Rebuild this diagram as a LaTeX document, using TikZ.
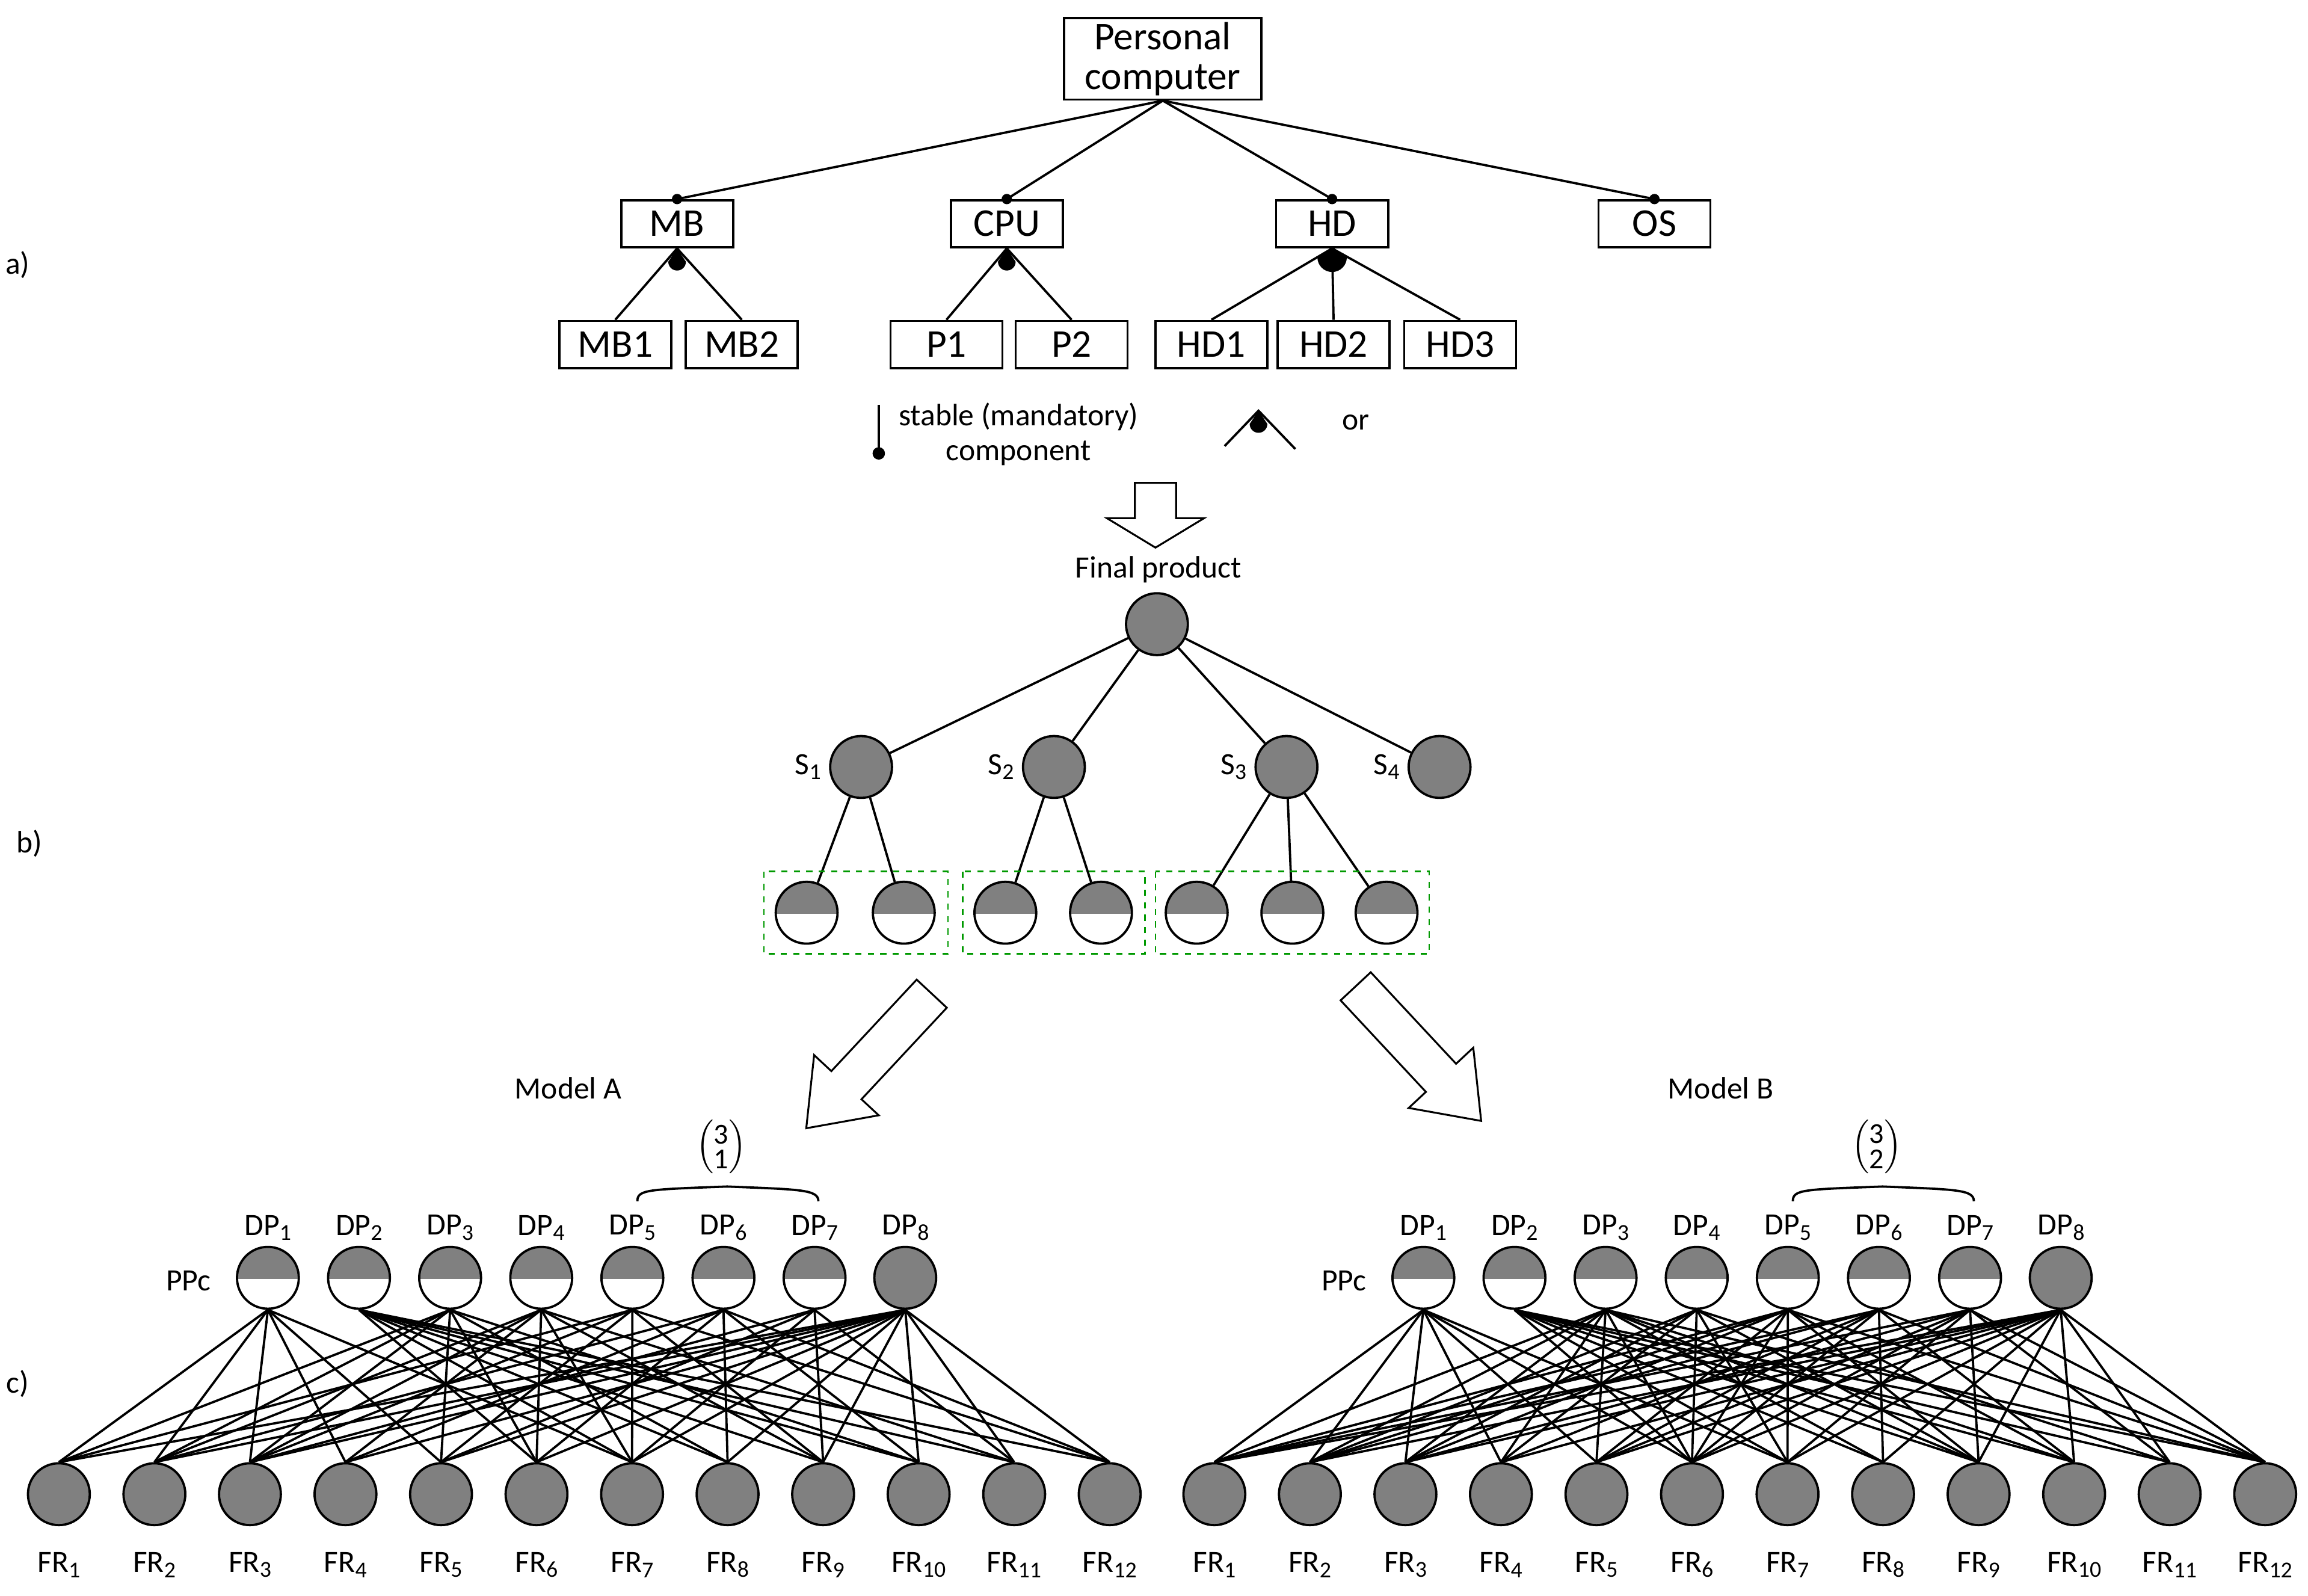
\documentclass[tikz,border=0pt]{standalone}
\usepackage{amsmath}
\usepackage{fontspec}
\setmainfont{Carlito}
\newcommand{\sbs}[1]{\raisebox{-0.35ex}{\fontsize{11}{11}\selectfont #1}}
\begin{document}
\begin{tikzpicture}[x=0.025cm,y=-0.025cm,line width=1.1pt,
  box/.style={draw,fill=white,minimum height=0.8cm,inner sep=2pt,font=\fontsize{19}{21}\selectfont},
  full/.style={draw,circle,fill=gray,minimum size=1.05cm,inner sep=0pt},
  half/.style={draw,circle,minimum size=1.05cm,inner sep=0pt,path picture={\fill[gray](path picture bounding box.north west) rectangle ([yshift=-0.5pt]path picture bounding box.east);}},
  lab/.style={font=\fontsize{15}{17}\selectfont},
  hollow/.style={draw,fill=white,line width=0.9pt,line join=miter},
  mand/.style={fill,circle,inner sep=0pt,minimum size=5pt}]
\useasboundingbox (0,0) rectangle (1568,1084);

% a) feature tree
\node[box,align=center,font=\fontsize{19}{19}\selectfont,minimum width=3.35cm] (pc) at (790,40) {Personal\\computer};
\node[box,minimum width=1.9cm] (mb) at (460,152) {MB};
\node[box,minimum width=1.9cm] (cpu) at (684,152) {CPU};
\node[box,minimum width=1.9cm] (hd) at (905,152) {HD};
\node[box,minimum width=1.9cm] (os) at (1124,152) {OS};
\foreach \n/\x/\t in {mb1/418/MB1,mb2/504/MB2,p1/643/P1,p2/728/P2,hd1/823/HD1,hd2/906/HD2,hd3/992/HD3}
  \node[box,minimum width=1.9cm] (\n) at (\x,234) {\t};
\foreach \c in {mb,cpu,hd,os}{
  \draw (pc.south) -- (\c.north);
  \node[mand] at (\c.north) {};}
\foreach \p/\a/\b in {mb/mb1/mb2,cpu/p1/p2}{
  \draw (\p.south) -- (\a.north) (\p.south) -- (\b.north);
  \fill (\p.south) -- ++(-6,9) arc (180:0:6) -- cycle;}
\draw (hd.south) -- (hd1.north) (hd.south) -- (hd2.north) (hd.south) -- (hd3.north);
\fill (hd.south) -- ++(-10,6) arc (180:0:10) -- cycle;
% legend
\coordinate (lt) at (597,275);
\coordinate (lb) at (597,308);
\draw (lt) -- (lb);
\node[mand,minimum size=6pt] at (lb) {};
\node[lab,align=center] (stable) at (692,295) {stable (mandatory)\\component};
\coordinate (ol) at (832,303);
\coordinate (oa) at (855,279);
\coordinate (or) at (880,305);
\draw (ol) -- (oa) -- (or);
\fill (oa) -- ++(-6,9) arc (180:0:6) -- cycle;
\node[lab] (ortext) at (921,287) {or};
\draw[hollow] (771,328) -- (799,328) -- (799,352) -- (818,352) -- (785,372) -- (752,352) -- (771,352) -- cycle;

% b) product tree
\node[lab] (fp) at (787,387) {Final product};
\node[full] (top) at (786,424) {};
\foreach \i/\x in {1/585,2/716,3/874,4/978}{
  \node[full] (s\i) at (\x,521) {};
  \node[lab,left] at (s\i.west) {S\sbs{\i}};
  \draw (top) -- (s\i);}
\foreach \i/\x in {1/548,2/614,3/683,4/748,5/813,6/878,7/942}
  \node[half] (h\i) at (\x,620) {};
\foreach \s/\h in {s1/h1,s1/h2,s2/h3,s2/h4,s3/h5,s3/h6,s3/h7}
  \draw (\s) -- (\h);
\foreach \l/\r in {519/644,654/778,785/971}
  \draw[green!60!black,dashed,line width=0.8pt] (\l,592) rectangle (\r,648);
\draw[hollow,shift={(633,675)},rotate=-133] (0,-14) -- (85,-14) -- (85,-30) -- (125,0) -- (85,30) -- (85,14) -- (0,14) -- cycle;
\draw[hollow,shift={(921,670)},rotate=-47] (0,-14) -- (85,-14) -- (85,-30) -- (125,0) -- (85,30) -- (85,14) -- (0,14) -- cycle;
\node[lab] (ma) at (386,739) {Model A};
\node[lab] (mb) at (1169,739) {Model B};

% c) design matrices
\foreach \m/\o/\k in {A/0/1,B/785/2}{
  \node[font=\fontsize{14}{15}\selectfont] at (490+\o,779) {$\left(\vcenter{\hbox{\shortstack{3\\\k}}}\right)$};
  \draw (433+\o,816) .. controls (433+\o,808) and (440+\o,808) .. (494+\o,806) .. controls (544+\o,808) and (556+\o,808) .. (556+\o,816);
  \node[lab] at (128+\o,870) {PPc};
  \foreach \i in {1,...,7}{
    \node[half] (dp\m\i) at (182+\o+61.9*\i-61.9,868) {};}
  \node[full] (dp\m8) at (615+\o,868) {};
  \foreach \i in {1,...,8}
    \node[lab] at (182+\o+61.9*\i-61.9,834) {DP\sbs{\i}};
  \foreach \j in {1,...,12}{
    \node[full] (fr\m\j) at (40+\o+64.9*\j-64.9,1015) {};
    \node[lab] at (40+\o+64.9*\j-64.9,1063) {FR\sbs{\j}};}
}
\foreach \m in {A,B}{
  \foreach \d/\fs in {1/{1,2,3,4,5,7},2/{6,7,8,9,10,11,12},3/{1,2,3,5,6,8,10},4/{2,3,4,6,7,9,11},5/{1,3,5,7,9,12},6/{2,4,6,8,10,12},7/{3,5,7,9,11},8/{1,2,3,4,5,6,7,8,9,10,11,12}}
    \foreach \f in \fs
      \draw (dp\m\d.south) -- (fr\m\f.north);}
\foreach \d/\fs in {3/{4,9,12},5/{2,6,10},7/{1,6,12},1/{6},6/{1,5}}
  \foreach \f in \fs
    \draw (dpB\d.south) -- (frB\f.north);

\node[lab] (la) at (12,180) {a)};
\node[lab] (lb2) at (20,573) {b)};
\node[lab] (lc) at (12,940) {c)};
\end{tikzpicture}
\end{document}
